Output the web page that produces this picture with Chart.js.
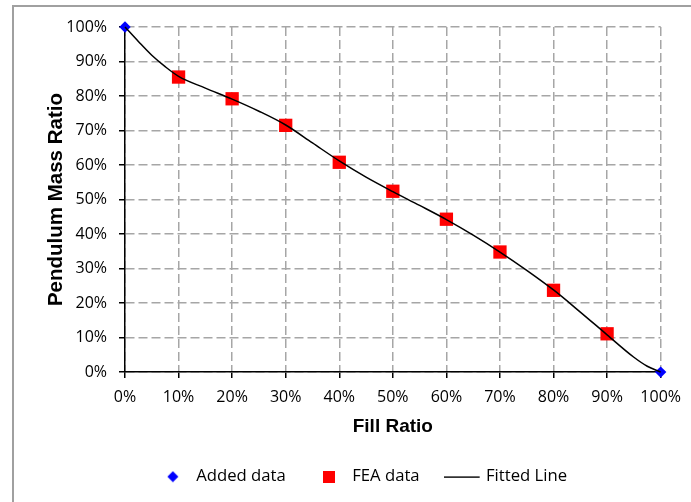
<!DOCTYPE html>
<html>
<head>
<meta charset="utf-8">
<script src="https://cdn.jsdelivr.net/npm/chart.js@4.4.1/dist/chart.umd.min.js"></script>
<style>
  html, body { margin: 0; padding: 0; background: #fff; }
  #wrap { width: 691px; height: 502px; }
</style>
</head>
<body>
<div id="wrap"><canvas id="chart" width="691" height="502"></canvas></div>
<script>
// data (percent)
const addedX = [0, 100];
const addedY = [100, 0];
const feaX = [10, 20, 30, 40, 50, 60, 70, 80, 90];
const feaY = [85.5, 79.2, 71.5, 60.8, 52.4, 44.3, 34.8, 23.7, 11.1];
const fitX = [0, 2.5, 5, 7.5, 10, 15, 20, 25, 30, 35, 40, 45, 50, 55, 60, 65, 70, 75, 80, 85, 90, 95, 97.5, 100];
const fitY = [100, 95.8, 91.8, 88.5, 85.7, 82.3, 79.1, 75.6, 71.6, 66.4, 61.2, 56.5, 52.3, 48.3, 44.2, 39.7, 34.8, 29.5, 23.8, 17.4, 10.8, 4.3, 1.7, 0];
const seriesNames = ['Added data', 'FEA data', 'Fitted Line'];

const toPts = (xs, ys) => xs.map((x, i) => ({ x: x, y: ys[i] }));

// small canvases used as legend markers
function marker(w, h, draw) {
  const c = document.createElement('canvas');
  c.width = w; c.height = h;
  draw(c.getContext('2d'));
  return c;
}
const diamondIcon = marker(12, 12, ctx => {
  ctx.fillStyle = '#0000ff';
  ctx.beginPath();
  ctx.moveTo(6, 0.5); ctx.lineTo(11.5, 6); ctx.lineTo(6, 11.5); ctx.lineTo(0.5, 6);
  ctx.closePath(); ctx.fill();
});
const squareIcon = marker(12, 12, ctx => {
  ctx.fillStyle = '#ff0000';
  ctx.fillRect(0, 0, 12, 12);
});
const lineIcon = marker(38, 2, ctx => {
  ctx.fillStyle = '#000';
  ctx.fillRect(0, 0.5, 36, 1.3);
});
const legendIcons = [diamondIcon, squareIcon, lineIcon];

// grey frame round the chart (left and top edges show)
const framePlugin = {
  id: 'frame',
  beforeDraw(chart) {
    const ctx = chart.ctx;
    ctx.save();
    ctx.fillStyle = '#fff';
    ctx.fillRect(0, 0, chart.width, chart.height);
    ctx.strokeStyle = '#a0a0a0';
    ctx.lineWidth = 2;
    ctx.strokeRect(13, 6, chart.width + 20, chart.height + 20);
    ctx.restore();
  }
};

const tickFont = { family: '"Open Sans", sans-serif', size: 16 };
const legendFont = { family: '"Open Sans", sans-serif', size: 16.7 };
const xTitleFont = { family: '"Liberation Sans", Arial, sans-serif', size: 19, weight: 'bold', lineHeight: 1 };
const yTitleFont = { family: '"Liberation Sans", Arial, sans-serif', size: 20.5, weight: 'bold', lineHeight: 1 };

const grid = {
  color: '#a6a6a6',
  lineWidth: 1.5,
  tickColor: '#000',
  tickLength: 6,
  tickBorderDash: [],
  tickWidth: 1.5
};
const border = { color: '#000', width: 1.5, dash: [9, 4] };

new Chart(document.getElementById('chart'), {
  type: 'scatter',
  data: {
    datasets: [
      {
        label: seriesNames[0],
        data: toPts(addedX, addedY),
        pointStyle: 'rectRot',
        pointRadius: 5.7,
        backgroundColor: '#0000ff',
        borderColor: '#0000ff',
        borderWidth: 0,
        clip: false,
        order: 2
      },
      {
        label: seriesNames[1],
        data: toPts(feaX, feaY),
        pointStyle: 'rect',
        pointRadius: 9.4,
        backgroundColor: '#ff0000',
        borderColor: '#ff0000',
        borderWidth: 0,
        clip: false,
        order: 1
      },
      {
        label: seriesNames[2],
        type: 'line',
        data: toPts(fitX, fitY),
        showLine: true,
        borderColor: '#000',
        borderWidth: 1.5,
        pointRadius: 0,
        cubicInterpolationMode: 'monotone',
        fill: false,
        clip: false,
        order: 0
      }
    ]
  },
  options: {
    responsive: false,
    animation: false,
    layout: { padding: { left: 64, right: 30, top: 27, bottom: 7 } },
    scales: {
      x: {
        type: 'linear',
        min: 0, max: 100,
        ticks: { stepSize: 10, color: '#000', font: tickFont, padding: 10, callback: v => v + '%' },
        grid: grid,
        border: border,
        title: { display: true, text: 'Fill Ratio', color: '#000', font: xTitleFont, padding: { top: 0, bottom: 4 } }
      },
      y: {
        type: 'linear',
        min: 0, max: 100,
        ticks: { stepSize: 10, color: '#000', font: tickFont, padding: 12, callback: v => v + '%' },
        grid: grid,
        border: border,
        title: { display: true, text: 'Pendulum Mass Ratio', color: '#000', font: yTitleFont, padding: { top: -18, bottom: 0 } },
        afterFit: s => { s.width = 61; }
      }
    },
    plugins: {
      legend: {
        position: 'bottom',
        labels: {
          usePointStyle: true,
          pointStyleWidth: 30,
          padding: 28,
          color: '#000',
          font: legendFont,
          generateLabels: chart => chart.data.datasets.map((ds, i) => ({
            text: ds.label,
            pointStyle: legendIcons[i],
            fillStyle: ds.backgroundColor,
            strokeStyle: ds.borderColor,
            lineWidth: 0,
            hidden: false,
            datasetIndex: i
          }))
        }
      },
      tooltip: { enabled: false }
    }
  },
  plugins: [framePlugin]
});
</script>
</body>
</html>
